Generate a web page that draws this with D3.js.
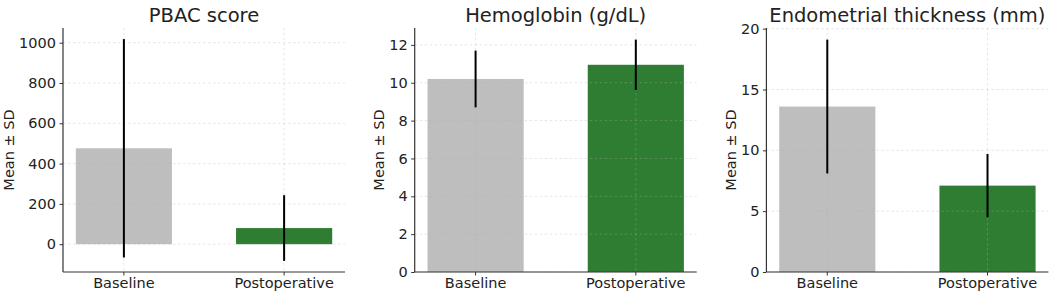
<!DOCTYPE html>
<html>
<head>
<meta charset="utf-8">
<script src="https://cdn.jsdelivr.net/npm/d3@7"></script>
<style>
  body { margin: 0; background: #fff; }
  svg text { font-family: "DejaVu Sans", sans-serif; fill: #222; }
  .tick text { font-size: 14.5px; }
  .title { font-size: 19.5px; }
  .ylabel { font-size: 14.5px; }
</style>
</head>
<body>
<svg id="chart" width="1052" height="295"></svg>
<script>
// values
const groups = ["Baseline", "Postoperative"];
const titles = ["PBAC score", "Hemoglobin (g/dL)", "Endometrial thickness (mm)"];
const means = [[476, 80], [10.2, 10.95], [13.6, 7.1]];
const sds = [[542, 163], [1.5, 1.33], [5.5, 2.6]];
const yTicks = [[0, 200, 400, 600, 800, 1000], [0, 2, 4, 6, 8, 10, 12], [0, 5, 10, 15, 20]];
const barColors = ["#bebebe", "#2e7d32"];

const svg = d3.select("#chart");
const panelW = 282, plotTop = 28, plotBottom = 272;
const lefts = [63, 414.7, 766.4];

titles.forEach((title, p) => {
    const left = lefts[p];
    const rows = groups.map((g, i) => ({ g, mean: means[p][i], sd: sds[p][i], color: barColors[i] }));

    // matplotlib-like autoscale: 5% margin, sticky at 0 for bars
    let lo = d3.min(rows, d => Math.min(0, d.mean - d.sd));
    let hi = d3.max(rows, d => d.mean + d.sd);
    const pad = 0.05 * (hi - lo);
    const y = d3.scaleLinear()
        .domain([lo < 0 ? lo - pad : 0, hi + pad])
        .range([plotBottom, plotTop]);

    const x = d3.scaleBand()
        .domain(groups)
        .range([left, left + panelW])
        .paddingInner(0.4)
        .paddingOuter(0.08);

    const g = svg.append("g").attr("class", "panel");

    //bars
    g.selectAll("rect.bar")
        .data(rows)
    .join("rect")
        .attr("class", "bar")
        .attr("x", d => x(d.g))
        .attr("width", x.bandwidth())
        .attr("y", d => y(Math.max(0, d.mean)))
        .attr("height", d => Math.abs(y(0) - y(d.mean)))
        .attr("fill", d => d.color);

    //grid (matplotlib draws it over the patches)
    g.selectAll("line.hgrid")
        .data(yTicks[p])
    .join("line")
        .attr("class", "hgrid")
        .attr("x1", left).attr("x2", left + panelW)
        .attr("y1", d => y(d)).attr("y2", d => y(d))
        .attr("stroke", "#b0b0b0").attr("stroke-opacity", 0.4)
        .attr("stroke-width", 0.8).attr("stroke-dasharray", "2.5,2.5");

    g.selectAll("line.vgrid")
        .data(groups)
    .join("line")
        .attr("class", "vgrid")
        .attr("x1", d => x(d) + x.bandwidth() / 2).attr("x2", d => x(d) + x.bandwidth() / 2)
        .attr("y1", plotTop).attr("y2", plotBottom)
        .attr("stroke", "#b0b0b0").attr("stroke-opacity", 0.4)
        .attr("stroke-width", 0.8).attr("stroke-dasharray", "2.5,2.5");

    //error bars
    g.selectAll("line.err")
        .data(rows)
    .join("line")
        .attr("class", "err")
        .attr("x1", d => x(d.g) + x.bandwidth() / 2).attr("x2", d => x(d.g) + x.bandwidth() / 2)
        .attr("y1", d => y(d.mean - d.sd)).attr("y2", d => y(d.mean + d.sd))
        .attr("stroke", "#000").attr("stroke-width", 2);

    //axes
    const yAxis = g.append("g")
        .attr("transform", `translate(${left},0)`)
        .call(d3.axisLeft(y).tickValues(yTicks[p]).tickSize(3.5).tickPadding(3.5).tickFormat(d3.format("d")));
    yAxis.select(".domain").attr("d", `M0,${plotTop}V${plotBottom}`);

    const xAxis = g.append("g")
        .attr("transform", `translate(0,${plotBottom})`)
        .call(d3.axisBottom(x).tickSize(3.5).tickPadding(2.6));
    xAxis.select(".domain").attr("d", `M${left},0H${left + panelW}`);

    g.selectAll(".domain").attr("stroke", "#333").attr("stroke-width", 1.2);
    g.selectAll(".tick line").attr("stroke", "#333").attr("stroke-width", 1);
    g.selectAll(".tick text").attr("fill", "#222").style("font-size", "14.5px");

    const tickW = yAxis.node().getBBox().x;

    g.append("text")
        .attr("class", "ylabel")
        .attr("transform", `translate(${left + tickW - 5},${(plotTop + plotBottom) / 2}) rotate(-90)`)
        .attr("text-anchor", "middle")
        .text("Mean ± SD");

    g.append("text")
        .attr("class", "title")
        .attr("x", left + panelW / 2)
        .attr("y", 21.5)
        .attr("text-anchor", "middle")
        .text(title);
});
</script>
</body>
</html>
